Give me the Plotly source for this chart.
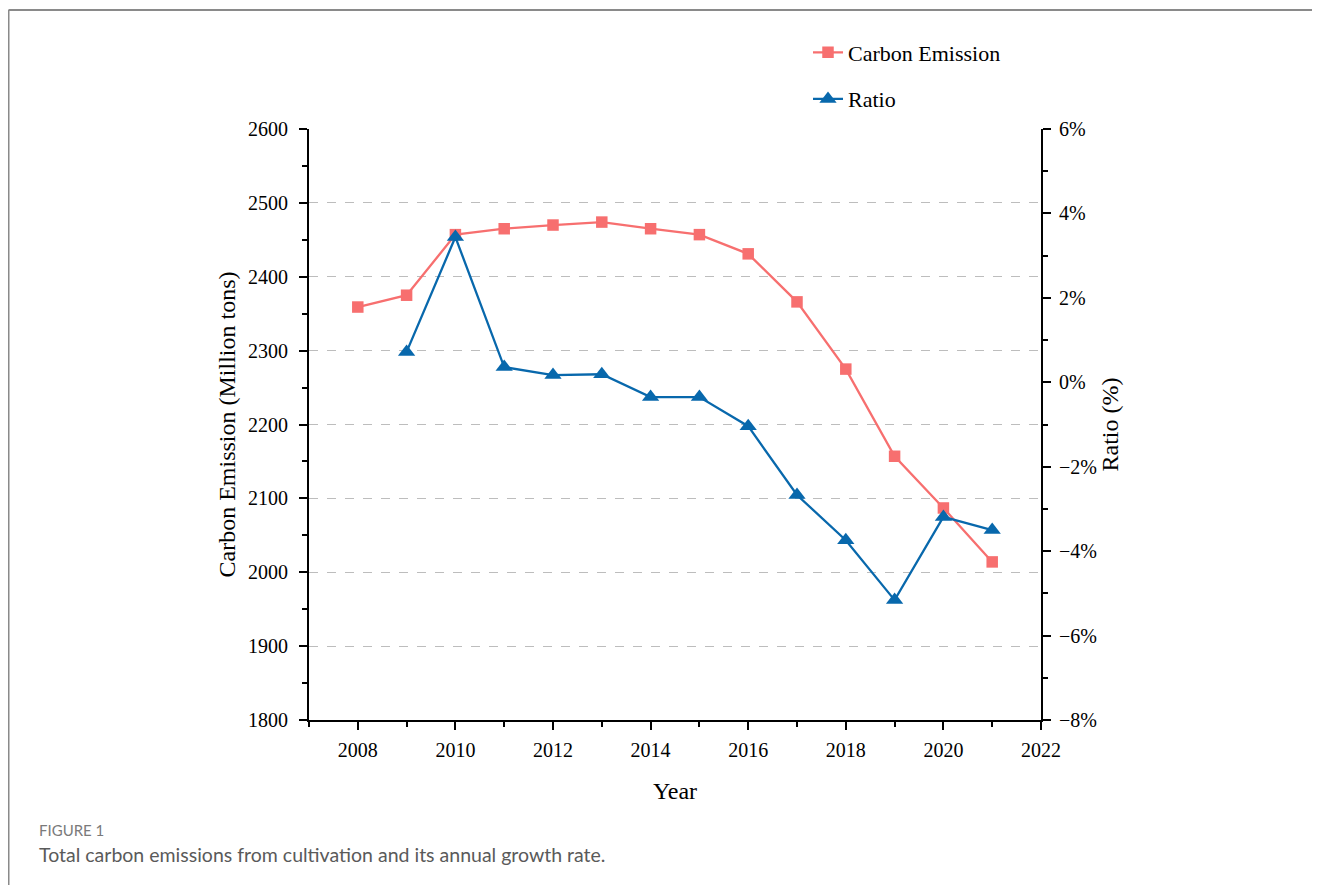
import plotly.graph_objects as go

years = [2008, 2009, 2010, 2011, 2012, 2013, 2014, 2015, 2016, 2017, 2018, 2019, 2020, 2021]
carbon = [2359, 2375, 2457, 2465, 2470, 2474, 2465, 2457, 2431, 2366, 2275, 2157, 2087, 2014]
ratio_years = [2009, 2010, 2011, 2012, 2013, 2014, 2015, 2016, 2017, 2018, 2019, 2020, 2021]
ratio = [0.72, 3.44, 0.36, 0.17, 0.19, -0.35, -0.35, -1.04, -2.67, -3.74, -5.16, -3.19, -3.50]
right_ticks = [-8, -6, -4, -2, 0, 2, 4, 6]
right_labels = ["\u22128%", "\u22126%", "\u22124%", "\u22122%", "0%", "2%", "4%", "6%"]

RED = "#F76F6F"
BLUE = "#0868AC"
SERIF = "Liberation Serif"

fig = go.Figure()
fig.add_trace(go.Scatter(
    x=years, y=carbon, name="Carbon Emission", mode="lines+markers",
    line=dict(color=RED, width=2.3), marker=dict(symbol="square", size=11.5, color=RED),
    legendgroup="a", yaxis="y"))
fig.add_trace(go.Scatter(
    x=ratio_years, y=ratio, name="Ratio", mode="lines+markers",
    line=dict(color=BLUE, width=2.3), marker=dict(symbol="triangle-up", size=15, color=BLUE),
    legendgroup="b", yaxis="y2"))

axis_common = dict(
    showline=True, linecolor="black", linewidth=2, ticks="outside", ticklen=8,
    tickwidth=2, tickcolor="black", tickfont=dict(family=SERIF, size=20, color="black"),
    zeroline=False,
)

fig.update_layout(
    width=1312, height=877,
    paper_bgcolor="white", plot_bgcolor="white",
    margin=dict(l=301, r=279, t=121, b=165),
    font=dict(family=SERIF, color="black"),
    xaxis=dict(
        range=[2007, 2022], dtick=2, tick0=2008, showgrid=False, ticklabelstandoff=3,
        minor=dict(dtick=1, tick0=2007, ticklen=5, tickwidth=2, tickcolor="black", ticks="outside"),
        title=dict(text="Year", font=dict(family=SERIF, size=24, color="black"), standoff=22),
        **axis_common),
    yaxis=dict(
        range=[1800, 2600], dtick=100, tick0=1800, ticklabelstandoff=7,
        showgrid=True, gridcolor="#BDBDBD", griddash="dash", gridwidth=1,
        minor=dict(dtick=50, tick0=1800, ticklen=5, tickwidth=2, tickcolor="black", ticks="outside", showgrid=False),
        title=dict(text="Carbon Emission (Million tons)", font=dict(family=SERIF, size=24, color="black"), standoff=6),
        **axis_common),
    yaxis2=dict(
        range=[-8, 6], overlaying="y", side="right", tickvals=right_ticks, ticktext=right_labels,
        showgrid=False, ticklabelstandoff=4,
        minor=dict(dtick=1, tick0=-8, ticklen=5, tickwidth=2, tickcolor="black", ticks="outside"),
        title=dict(text="Ratio (%)", font=dict(family=SERIF, size=24, color="black"), standoff=3),
        **axis_common),
    legend=dict(
        x=0.6817, y=1.165, xanchor="left", yanchor="top",
        font=dict(family=SERIF, size=22, color="black"),
        tracegroupgap=15, bgcolor="rgba(0,0,0,0)",
        traceorder="grouped",
    ),
    showlegend=True,
)

# page frame
fig.add_shape(type="line", xref="paper", yref="paper", x0=-0.4105, x1=1.45, y0=1.2014, y1=1.2014,
              line=dict(color="#8A8A8A", width=2))
fig.add_shape(type="line", xref="paper", yref="paper", x0=-0.4105, x1=-0.4105, y0=1.2014, y1=-0.3,
              line=dict(color="#8A8A8A", width=2))

fig.add_annotation(text="FIGURE 1", xref="paper", yref="paper", x=-0.372, y=-0.186,
                   xanchor="left", yanchor="middle", showarrow=False,
                   font=dict(family="Lato", size=15, color="#7A7A7A"))
fig.add_annotation(text="Total carbon emissions from cultivation and its annual growth rate.",
                   xref="paper", yref="paper", x=-0.372, y=-0.228,
                   xanchor="left", yanchor="middle", showarrow=False,
                   font=dict(family="Lato", size=19.5, color="#5A5A5A"))

fig.write_html("out.html")
